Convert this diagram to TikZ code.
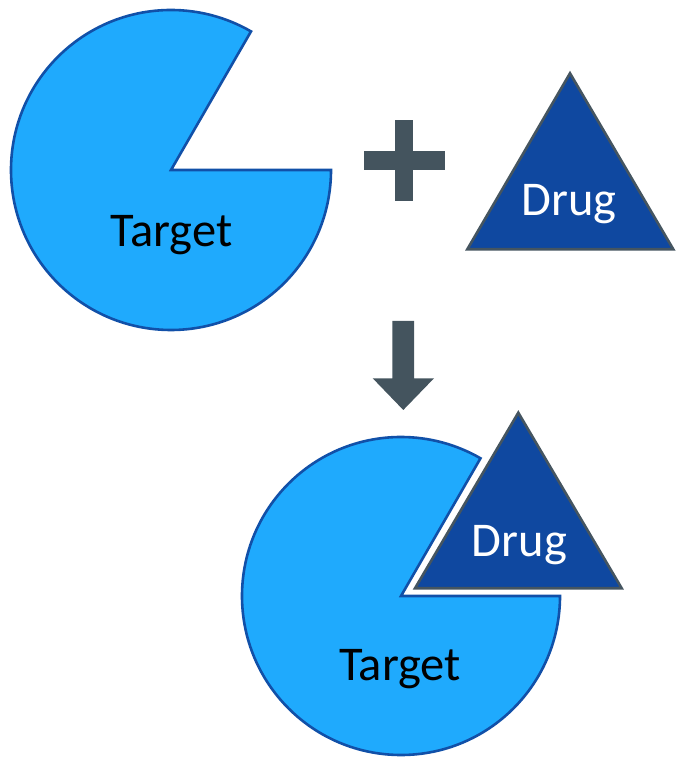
\documentclass[tikz,border=0pt]{standalone}
\usepackage{fontspec}
\setmainfont{Carlito}
\definecolor{tgtfill}{HTML}{1FAAFD}
\definecolor{tgtline}{HTML}{1150A8}
\definecolor{drugfill}{HTML}{0F48A0}
\definecolor{drugline}{HTML}{455560}
\definecolor{symcol}{HTML}{44545E}
\begin{document}
\begin{tikzpicture}[x=1pt,y=1pt,
  target/.style={fill=tgtfill,draw=tgtline,line width=2.6pt,line join=miter},
  drug/.style={fill=drugfill,draw=drugline,line width=2.6pt,line join=miter},
  sym/.style={fill=symcol,draw=none},
  lbl/.style={font=\fontsize{48.5}{52}\selectfont,anchor=base,inner sep=0pt}]
\useasboundingbox (0,0) rectangle (675,757);
% top target
\coordinate (c1) at (171,587);
\draw[target] (c1) -- ++(0:160) arc[start angle=0,end angle=-300,radius=160] -- cycle;
\node[lbl,text=black] (t1) at (171.5,510) {Target};
% plus
\fill[sym] (395,556.3) rectangle (413.3,637);
\fill[sym] (364,587) rectangle (444.7,606.3);
% top drug
\draw[drug] (570,683.7) -- (467.3,507.7) -- (673.3,507.7) -- cycle;
\node[lbl,text=white] (d1) at (569,541.3) {Drug};
% arrow
\fill[sym] (392.3,436) -- (414,436) -- (414,378.7) -- (434,378.7) -- (403.3,347) -- (372.7,378.7) -- (392.3,378.7) -- cycle;
% bottom target
\coordinate (c2) at (401,161);
\draw[target] (c2) -- ++(0:159) arc[start angle=0,end angle=-300,radius=159] -- cycle;
\node[lbl,text=black] (t2) at (400,76.3) {Target};
% bottom drug
\draw[drug] (518.3,344.3) -- (415,168.7) -- (621.7,168.7) -- cycle;
\node[lbl,text=white] (d2) at (519.5,200.3) {Drug};
\end{tikzpicture}
\end{document}
